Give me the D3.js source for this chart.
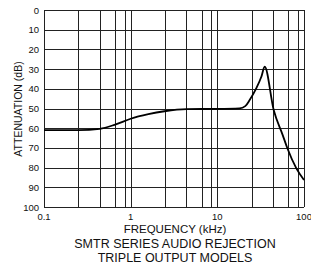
<!DOCTYPE html>
<html><head><meta charset="utf-8">
<script src="https://cdn.jsdelivr.net/npm/d3@7"></script>
<style>html,body{margin:0;padding:0;background:#fff;}svg{display:block;}</style>
</head><body>
<script>
const freqs = [0.1, 0.25, 0.44, 0.65, 1, 1.6, 2.45, 4.4, 10, 18, 21, 23.6, 28.2, 32.2, 35.2, 44.7, 56.8, 64.3, 81.6, 100];
const atten = [61, 61, 60.3, 58.3, 55.2, 52.9, 51.4, 50.3, 50.2, 49.9, 48.8, 45.7, 39.7, 33.9, 28.8, 50.8, 63.5, 70.2, 80.4, 86.3];
const gridFreqs = [0.25, 0.44, 0.66, 0.85, 1, 2.5, 4.4, 6.6, 8.5, 10, 25, 44, 66, 85];
const xTicks = [0.1, 1, 10, 100];
const xTickLabels = ["0.1", "1", "10", "100"];
const yTicks = [0, 10, 20, 30, 40, 50, 60, 70, 80, 90, 100];
const xTitle = "FREQUENCY (kHz)";
const yTitle = "ATTENUATION (dB)";
const titleLines = ["SMTR SERIES AUDIO REJECTION", "TRIPLE OUTPUT MODELS"];

const W = 311, H = 271;
const svg = d3.select("body").append("svg").attr("width", W).attr("height", H)
  .style("font-family", "'Liberation Sans', Arial, sans-serif");
const x = d3.scaleLog().domain([0.1, 100]).range([44, 304]);
const y = d3.scaleLinear().domain([0, 100]).range([10, 207]);

const g = svg.append("g");
// horizontal grid
g.selectAll("line.h").data(yTicks).enter().append("line")
  .attr("x1", x(0.1)).attr("x2", x(100))
  .attr("y1", d => Math.round(y(d)) + 0.5).attr("y2", d => Math.round(y(d)) + 0.5)
  .attr("stroke", "#222").attr("stroke-width", 1);
// vertical grid
g.selectAll("line.v").data(gridFreqs.concat([0.1, 100])).enter().append("line")
  .attr("x1", d => Math.round(x(d)) + 0.5).attr("x2", d => Math.round(x(d)) + 0.5)
  .attr("y1", y(0)).attr("y2", y(100))
  .attr("stroke", "#222").attr("stroke-width", 1);

// y tick labels
g.selectAll("text.yt").data(yTicks).enter().append("text")
  .attr("x", 39).attr("y", d => y(d) + 3.5)
  .attr("text-anchor", "end").attr("font-size", 9.5).attr("fill", "#111")
  .text(d => d);
// x tick labels
g.selectAll("text.xt").data(xTicks).enter().append("text")
  .attr("x", d => x(d)).attr("y", 220)
  .attr("text-anchor", "middle").attr("font-size", 9.5).attr("fill", "#111")
  .text((d, i) => xTickLabels[i]);

// titles
svg.append("text").attr("x", 175).attr("y", 232.5).attr("text-anchor", "middle")
  .attr("font-size", 11.5).attr("fill", "#111").text(xTitle);
svg.append("text").attr("transform", "translate(22,109) rotate(-90)").attr("text-anchor", "middle")
  .attr("font-size", 10.5).attr("fill", "#111").text(yTitle);
titleLines.forEach((t, i) => {
  svg.append("text").attr("x", 175).attr("y", 248 + i * 14).attr("text-anchor", "middle")
    .attr("font-size", 12.5).attr("fill", "#111").text(t);
});

// curve
const line = d3.line().x((d, i) => x(freqs[i])).y(d => y(d)).curve(d3.curveMonotoneX);
svg.append("path").datum(atten).attr("d", line)
  .attr("fill", "none").attr("stroke", "#000").attr("stroke-width", 1.8);
</script>
</body></html>
